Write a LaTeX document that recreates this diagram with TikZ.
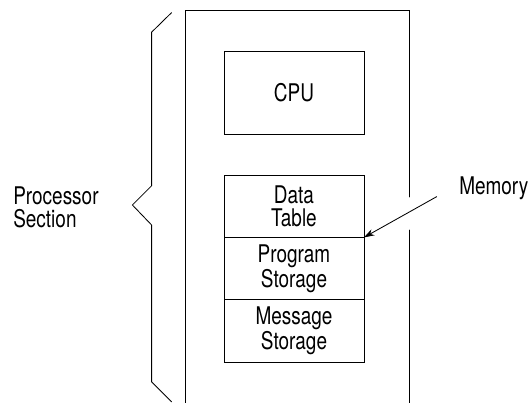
\documentclass[tikz,border=0pt]{standalone}
\usepackage{fontspec, tkz-euclide}
\usetikzlibrary{positioning, arrows.meta}
\setmainfont{TeX Gyre Heros}[FakeStretch=0.78]

\tikzset{
    txt/.style={font=\fontsize{17.3pt}{16.2pt}\selectfont, inner sep=0pt, align=center},
    memblock/.style={txt, draw, line width=0.6pt, outer sep=0pt, minimum width=3.5cm, minimum height=1.56cm},
    pointer/.style={line width=0.6pt, -{Stealth[length=2.6mm, width=1.7mm]}}
}

\begin{document}
\begin{tikzpicture}
    \useasboundingbox (0,0) rectangle (13.275,10.075);
    \tkzDefPoints{4.64/0/FL, 4.64/9.825/TL, 10.23/9.825/TR, 10.23/5.15/Ga, 10.23/4.325/Gb, 10.23/0/FR}
    \tkzDefPoints{4.29/9.76/Ba, 3.79/9.27/Bb, 3.79/5.43/Bc, 3.31/4.95/Bd, 3.79/4.45/Be, 3.79/0.53/Bf, 4.29/0.03/Bg}
    \tkzDrawPolySeg[line width=0.6pt](FL,TL,TR,Ga)
    \tkzDrawSegment[line width=0.6pt](Gb,FR)
    \tkzDrawPolySeg[line width=0.6pt](Ba,Bb,Bc,Bd,Be,Bf,Bg)
    % boxes
    \node[memblock, minimum height=2.06cm] (cpu) at (7.35,7.75) {CPU};
    \node[memblock] (data) at (7.35,4.92) {Data\\Table};
    \node[memblock, below=0pt of data] (prog) {Program\\Storage};
    \node[memblock, below=0pt of prog] (msg) {Message\\Storage};
    % labels
    \node[txt, anchor=west, align=left] (proc) at (0.325,4.9) {Processor\\Section};
    \node[txt, anchor=base west] (memory) at (11.475,5.2) {Memory};
    \coordinate (tail) at (10.92,5.16);
    \draw[pointer] (tail) -- (data.south east);
\end{tikzpicture}
\end{document}
